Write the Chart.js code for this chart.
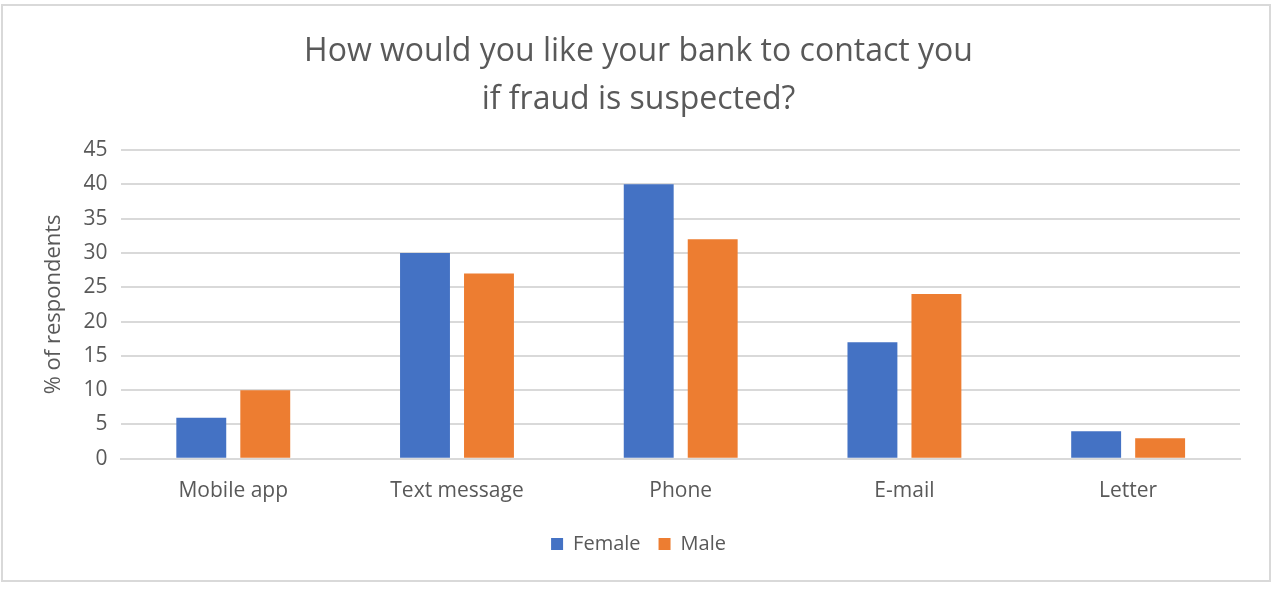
<!DOCTYPE html>
<html>
<head>
<meta charset="utf-8">
<script src="https://cdn.jsdelivr.net/npm/chart.js@4/dist/chart.umd.min.js"></script>
<style>
  html, body { margin: 0; padding: 0; background: #fff; }
  #frame {
    position: absolute; left: 1px; top: 4px;
    width: 1266px; height: 574px;
    border: 2px solid #d9d9d9;
  }
  canvas { display: block; }
</style>
</head>
<body>
<div id="frame"><canvas id="chart"></canvas></div>
<script>
// Data
const categories = ['Mobile app', 'Text message', 'Phone', 'E-mail', 'Letter'];
const female = [6, 30, 40, 17, 4];
const male = [10, 27, 32, 24, 3];
const titleLines = ['How would you like your bank to contact you', 'if fraud is suspected?'];

Chart.defaults.font.family = "'Open Sans', 'Noto Sans', sans-serif";
Chart.defaults.color = '#595959';

new Chart(document.getElementById('chart'), {
  type: 'bar',
  data: {
    labels: categories,
    datasets: [
      { label: 'Female', data: female, backgroundColor: '#4472c4' },
      { label: 'Male', data: male, backgroundColor: '#ed7d31' }
    ]
  },
  options: {
    responsive: true,
    maintainAspectRatio: false,
    animation: false,
    categoryPercentage: 0.572,
    barPercentage: 0.78,
    layout: { padding: { left: 34, right: 29, top: 8, bottom: 16 } },
    plugins: {
      title: {
        display: true,
        text: titleLines,
        font: { size: 32, weight: 'normal', lineHeight: 1.5 },
        color: '#595959',
        padding: { top: 14, bottom: 26 }
      },
      legend: {
        position: 'bottom',
        labels: {
          boxWidth: 12,
          boxHeight: 12,
          padding: 18,
          font: { size: 20 },
          color: '#595959'
        }
      },
      tooltip: { enabled: false }
    },
    scales: {
      x: {
        grid: { display: false },
        border: { color: '#d9d9d9', width: 2 },
        ticks: { font: { size: 21 }, color: '#595959', padding: 12 }
      },
      y: {
        min: 0,
        max: 45,
        ticks: { stepSize: 5, font: { size: 21 }, color: '#595959', padding: 14 },
        grid: { color: '#d9d9d9', lineWidth: 2, drawTicks: false },
        border: { display: false },
        title: {
          display: true,
          text: '% of respondents',
          font: { size: 22 },
          color: '#595959',
          padding: { bottom: 2 }
        }
      }
    }
  }
});
</script>
</body>
</html>
